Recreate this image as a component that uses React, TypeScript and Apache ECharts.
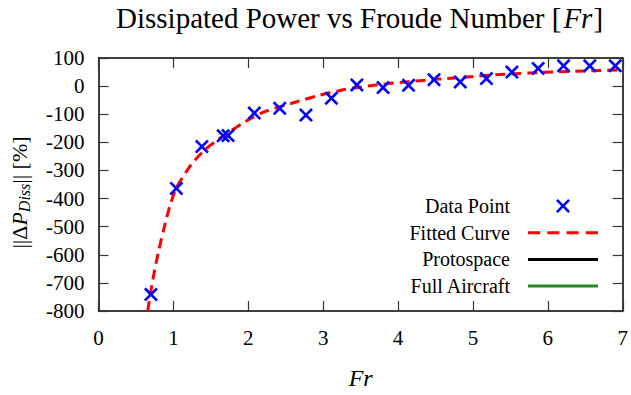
import React, { useEffect, useRef } from "react";
import * as echarts from "echarts";

const pointFr = [0.70, 1.04, 1.38, 1.665, 1.73, 2.08, 2.42, 2.77, 3.11, 3.45, 3.80, 4.14, 4.48, 4.83, 5.18, 5.52, 5.87, 6.21, 6.56, 6.90];
const pointDP = [-741, -364, -215, -177, -176, -96, -79, -103, -43, 4, -5, 3, 23, 15, 27, 50, 63, 72, 72, 72];

const curveFr = [0.657, 0.714, 0.80, 0.889, 0.955, 1.04, 1.17, 1.26, 1.415, 1.57, 1.70, 1.96, 2.22, 2.58, 2.93, 3.27, 3.71, 4.11, 4.55, 5.29, 5.95, 6.6, 7.0];
const curveDP = [-800, -705, -590, -490, -425, -362, -305, -272, -228, -195, -172, -126, -91, -61, -34, -13, 4, 15, 25, 40, 49, 55, 58];

const xTicks = [0, 1, 2, 3, 4, 5, 6, 7];
const yTicks = [-800, -700, -600, -500, -400, -300, -200, -100, 0, 100];

const SERIF = "'Liberation Serif', 'DejaVu Serif', serif";
const CROSS = "path://M0,1.6L1.6,0L6,4.4L10.4,0L12,1.6L7.6,6L12,10.4L10.4,12L6,7.6L1.6,12L0,10.4L4.4,6Z";
const SOLID_ICON = "path://M0,0L70,0L70,3L0,3Z";
const DASH_ICON = "path://M0,0L12,0L12,3L0,3ZM19,0L31,0L31,3L19,3ZM38,0L50,0L50,3L38,3ZM57,0L69,0L69,3L57,3Z";

export default function App() {
  const ref = useRef<HTMLDivElement>(null);
  useEffect(() => {
    document.body.style.margin = "0";
    const chart = echarts.init(ref.current!, undefined, { renderer: "svg" });
    const axisLine = { show: true, onZero: false, lineStyle: { color: "#000", width: 1.5 } };
    const axisTick = { show: true, inside: true, length: 10, lineStyle: { color: "#333", width: 1.2 } };
    chart.setOption({
      animation: false,
      backgroundColor: "#fff",
      title: {
        text: "{n|Dissipated Power vs Froude Number [}{i|Fr}{n|]}",
        left: 116,
        top: 3,
        padding: 0,
        textStyle: {
          fontWeight: "normal",
          rich: {
            n: { fontFamily: SERIF, fontSize: 29, fontWeight: "normal", color: "#000" },
            i: { fontFamily: SERIF, fontSize: 29, fontWeight: "normal", fontStyle: "italic", color: "#000", padding: [0, 1, 0, 2] },
          },
        },
      },
      grid: { left: 94, right: 4, top: 58, bottom: 84 },
      xAxis: [
        {
          type: "value",
          min: xTicks[0],
          max: xTicks[xTicks.length - 1],
          interval: 1,
          position: "bottom",
          axisLine,
          axisTick,
          splitLine: { show: false },
          axisLabel: { fontFamily: SERIF, fontSize: 21, color: "#000", margin: 16 },
          name: "{i|Fr}",
          nameLocation: "middle",
          nameGap: 55,
          nameTextStyle: { rich: { i: { fontFamily: SERIF, fontSize: 24, fontStyle: "italic", color: "#000" } } },
        },
        {
          type: "value",
          min: xTicks[0],
          max: xTicks[xTicks.length - 1],
          interval: 1,
          position: "top",
          axisLine,
          axisTick,
          splitLine: { show: false },
          axisLabel: { show: false },
        },
      ],
      yAxis: [
        {
          type: "value",
          min: yTicks[0],
          max: yTicks[yTicks.length - 1],
          interval: 100,
          position: "left",
          axisLine,
          axisTick,
          splitLine: { show: false },
          axisLabel: { fontFamily: SERIF, fontSize: 21, color: "#000", margin: 14 },
          name: "{a|||Δ}{b|P}{c|Diss}{e||| [%]}",
          nameLocation: "middle",
          nameRotate: 90,
          nameGap: 66,
          nameTextStyle: {
            rich: {
              a: { fontFamily: SERIF, fontSize: 22, color: "#000" },
              b: { fontFamily: SERIF, fontSize: 22, fontStyle: "italic", color: "#000" },
              c: { fontFamily: SERIF, fontSize: 16, fontStyle: "italic", color: "#000", padding: [11, 0, 0, 0] },
              e: { fontFamily: SERIF, fontSize: 22, color: "#000", padding: [0, 16, 0, 0] },
            },
          },
        },
        {
          type: "value",
          min: yTicks[0],
          max: yTicks[yTicks.length - 1],
          interval: 100,
          position: "right",
          axisLine,
          axisTick,
          splitLine: { show: false },
          axisLabel: { show: false },
        },
      ],
      legend: {
        orient: "vertical",
        right: 28,
        top: 191,
        align: "right",
        itemWidth: 70,
        itemHeight: 14,
        itemGap: 6.7,
        selectedMode: false,
        formatter: (name: string) => `{t|${name}}`,
        textStyle: {
          lineHeight: 20,
          rich: {
            t: { fontFamily: SERIF, fontSize: 20, color: "#000", width: 130, align: "right", padding: [0, 13, 0, 0] },
          },
        },
        data: [
          { name: "Data Point", icon: CROSS, itemStyle: { color: "#0000ff", opacity: 1 } },
          { name: "Fitted Curve", icon: DASH_ICON, itemStyle: { color: "#ff0000" } },
          { name: "Protospace", icon: SOLID_ICON, itemStyle: { color: "#000000" } },
          { name: "Full Aircraft", icon: SOLID_ICON, itemStyle: { color: "#228b22" } },
        ],
      },
      series: [
        {
          name: "Data Point",
          type: "scatter",
          symbol: CROSS,
          symbolSize: 14,
          itemStyle: { color: "#0000ff", opacity: 1 },
          data: pointFr.map((x, i) => [x, pointDP[i]]),
          z: 3,
        },
        {
          name: "Fitted Curve",
          type: "line",
          smooth: 0.3,
          showSymbol: false,
          symbol: "none",
          lineStyle: { color: "#ff0000", width: 3, type: [10, 6] },
          itemStyle: { color: "#ff0000" },
          data: curveFr.map((x, i) => [x, curveDP[i]]),
          z: 2,
        },
        {
          name: "Protospace",
          type: "line",
          symbol: "none",
          lineStyle: { color: "#000000", width: 3 },
          itemStyle: { color: "#000000" },
          data: [],
        },
        {
          name: "Full Aircraft",
          type: "line",
          symbol: "none",
          lineStyle: { color: "#228b22", width: 3 },
          itemStyle: { color: "#228b22" },
          data: [],
        },
      ],
    });
    return () => chart.dispose();
  }, []);
  return <div ref={ref} style={{ width: 631, height: 395 }} />;
}
